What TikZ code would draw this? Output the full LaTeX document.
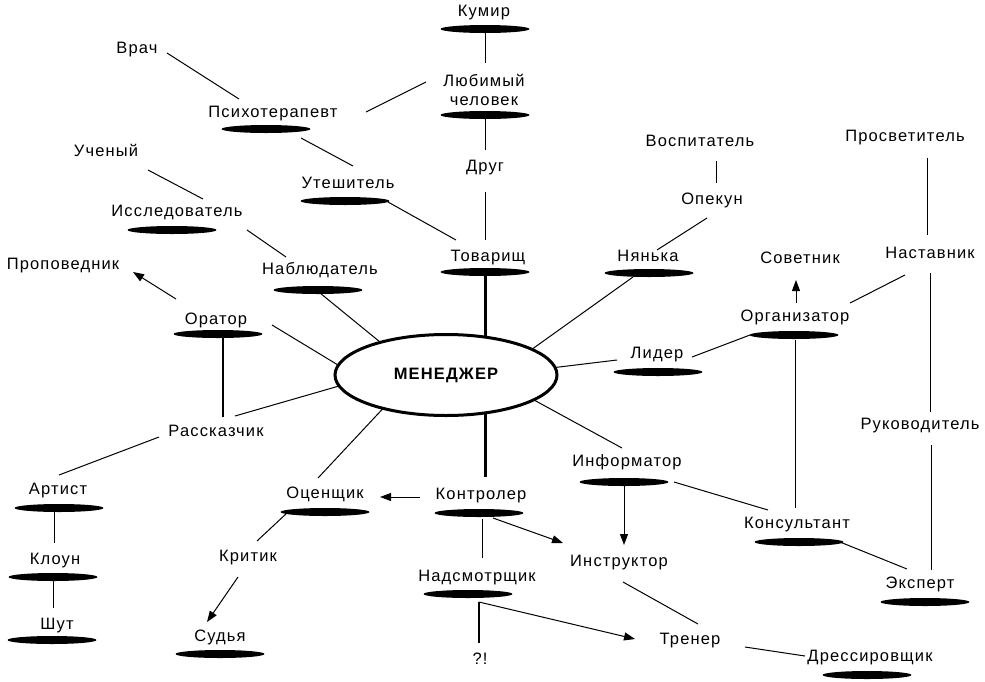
\documentclass[tikz,border=0pt]{standalone}
\usepackage{fontspec}
\setmainfont{Liberation Sans}[LetterSpace=7]
\usetikzlibrary{arrows.meta,shapes.geometric}
\begin{document}
\begin{tikzpicture}[x=1pt,y=-1pt,
  lbl/.style={font=\fontsize{16.5}{19}\selectfont, inner sep=2pt, text height=11.5pt, text depth=3.5pt},
  ul/.style={ellipse, fill=black, minimum width=89pt, minimum height=8pt, inner sep=0pt},
  ln/.style={line width=1pt},
  arr/.style={line width=1pt, -{Triangle[length=11pt,width=8pt]}},
  heavy/.style={line width=3pt},
  mid/.style={line width=2pt}]
\useasboundingbox[fill=white] (0,0) rectangle (985,681);

% centre
\node[ellipse, draw, line width=3pt, minimum width=222pt, minimum height=81pt, inner sep=0pt,
      font=\fontsize{16.5}{19}\selectfont\bfseries] (men) at (446,375) {МЕНЕДЖЕР};

% labels
\node[lbl] (kumir) at (484,12) {Кумир};
\node[ul] (kumirU) at (485,29) {};
\node[font=\fontsize{16.5}{19}\selectfont, align=center, inner sep=0pt] (lyub) at (484,90) {Любимый\\человек};
\node[ul] (lyubU) at (485,115) {};
\node[lbl] (drug) at (485,167) {Друг};
\node[lbl] (tov) at (488,257) {Товарищ};
\node[ul] (tovU) at (485,272) {};
\node[lbl] (psy) at (273,113) {Психотерапевт};
\node[ul] (psyU) at (266,129) {};
\node[lbl] (vrach) at (137,49) {Врач};
\node[lbl] (utesh) at (348,184) {Утешитель};
\node[ul] (uteshU) at (345,201) {};
\node[lbl] (uchen) at (106,152) {Ученый};
\node[lbl] (issl) at (177,212) {Исследователь};
\node[ul] (isslU) at (172,230) {};
\node[lbl] (nabl) at (320,270) {Наблюдатель};
\node[ul] (nablU) at (318,290) {};
\node[lbl] (propov) at (63,265) {Проповедник};
\node[lbl] (orator) at (216,320) {Оратор};
\node[ul] (oratorU) at (218,334) {};
\node[lbl] (rasskaz) at (216,432) {Рассказчик};
\node[lbl] (artist) at (58,490) {Артист};
\node[ul] (artistU) at (59,508) {};
\node[lbl] (kloun) at (55,560) {Клоун};
\node[ul] (klounU) at (53,577) {};
\node[lbl] (shut) at (57,625) {Шут};
\node[ul] (shutU) at (52,640) {};
\node[lbl] (ocen) at (325,494) {Оценщик};
\node[ul] (ocenU) at (325,512) {};
\node[lbl] (kritik) at (248,557) {Критик};
\node[lbl] (sudya) at (220,637) {Судья};
\node[ul] (sudyaU) at (220,654) {};
\node[lbl] (kontr) at (481,495) {Контролер};
\node[ul] (kontrU) at (479,513) {};
\node[lbl] (nadsm) at (477,577) {Надсмотрщик};
\node[ul] (nadsmU) at (468,594) {};
\node[lbl] (qm) at (480,660) {?!};
\node[lbl] (instr) at (619,562) {Инструктор};
\node[lbl] (trener) at (690,640) {Тренер};
\node[lbl] (dress) at (870,657) {Дрессировщик};
\node[ul] (dressU) at (867,675) {};
\node[lbl] (inform) at (627,462) {Информатор};
\node[ul] (informU) at (624,482) {};
\node[lbl] (konsult) at (797,524) {Консультант};
\node[ul] (konsultU) at (799,542) {};
\node[lbl] (ekspert) at (920,584) {Эксперт};
\node[ul] (ekspertU) at (925,602) {};
\node[lbl] (rukov) at (920,425) {Руководитель};
\node[lbl] (nastav) at (930,254) {Наставник};
\node[lbl] (prosv) at (905,137) {Просветитель};
\node[lbl] (organiz) at (795,317) {Организатор};
\node[ul] (organizU) at (794,335) {};
\node[lbl] (sovet) at (800,259) {Советник};
\node[lbl] (lider) at (657,354) {Лидер};
\node[ul] (liderU) at (658,372) {};
\node[lbl] (nyanka) at (648,257) {Нянька};
\node[ul] (nyankaU) at (649,273) {};
\node[lbl] (opekun) at (712,200) {Опекун};
\node[lbl] (vospit) at (700,142) {Воспитатель};

% connectors
\draw[ln] ([shift={(0,3)}]kumirU.center) -- ([shift={(1,-27)}]lyub.center);
\draw[ln] ([shift={(0,3)}]lyubU.center) -- ([shift={(0,-17)}]drug.center);
\draw[ln] ([shift={(0,25)}]drug.center) -- ([shift={(-3,-17)}]tov.center);
\draw[heavy] ([shift={(0,4)}]tovU.center) -- ([shift={(39,-38)}]men.center);
\draw[ln] ([shift={(93,-1)}]psy.center) -- ([shift={(-58,-8)}]lyub.center);
\draw[ln] ([shift={(30,4)}]vrach.center) -- ([shift={(-34,-14)}]psy.center);
\draw[ln] ([shift={(35,9)}]psyU.center) -- ([shift={(5,-18)}]utesh.center);
\draw[ln] ([shift={(43,1)}]uteshU.center) -- ([shift={(-32,-17)}]tov.center);
\draw[ln] ([shift={(42,18)}]uchen.center) -- ([shift={(26,-13)}]issl.center);
\draw[ln] ([shift={(75,0)}]isslU.center) -- ([shift={(-34,-13)}]nabl.center);
\draw[ln] ([shift={(2,3)}]nablU.center) -- ([shift={(-66,-33)}]men.center);
\draw[arr] ([shift={(-40,-21)}]orator.center) -- ([shift={(70,7)}]propov.center);
\draw[ln] ([shift={(56,5)}]orator.center) -- ([shift={(-108,-10)}]men.center);
\draw[mid] ([shift={(5,4)}]oratorU.center) -- ([shift={(7,-15)}]rasskaz.center);
\draw[ln] ([shift={(19,-16)}]rasskaz.center) -- ([shift={(-107,11)}]men.center);
\draw[ln] ([shift={(-57,5)}]rasskaz.center) -- ([shift={(1,-15)}]artist.center);
\draw[ln] ([shift={(-5,4)}]artistU.center) -- ([shift={(-1,-17)}]kloun.center);
\draw[ln] ([shift={(0,3)}]klounU.center) -- ([shift={(-4,-17)}]shut.center);
\draw[ln] ([shift={(-63,33.5)}]men.center) -- ([shift={(-7,-16)}]ocen.center);
\draw[ln] ([shift={(-38,1)}]ocenU.center) -- ([shift={(9,-16)}]kritik.center);
\draw[arr] ([shift={(-10,20)}]kritik.center) -- ([shift={(-13,-15)}]sudya.center);
\draw[heavy] ([shift={(39,38)}]men.center) -- ([shift={(4,-18)}]kontr.center);
\draw[arr] ([shift={(-61,2)}]kontr.center) -- ([shift={(55,3)}]ocen.center);
\draw[arr] ([shift={(14,5)}]kontrU.center) -- ([shift={(-56,-19)}]instr.center);
\draw[ln] ([shift={(3,6)}]kontrU.center) -- ([shift={(5,-19)}]nadsm.center);
\draw[mid] ([shift={(-1,-17)}]qm.center) -- ([shift={(11,8)}]nadsmU.center);
\draw[arr] ([shift={(11,8)}]nadsmU.center) -- ([shift={(-55,-1)}]trener.center);
\draw[ln] ([shift={(88,25)}]men.center) -- ([shift={(-5,-14)}]inform.center);
\draw[arr] ([shift={(0,3)}]informU.center) -- ([shift={(5,-17)}]instr.center);
\draw[ln] ([shift={(4,20)}]instr.center) -- ([shift={(8,-16)}]trener.center);
\draw[ln] ([shift={(55,7)}]trener.center) -- ([shift={(-65,-1)}]dress.center);
\draw[ln] ([shift={(50,0)}]informU.center) -- ([shift={(-29,-14)}]konsult.center);
\draw[ln] ([shift={(41,0)}]konsultU.center) -- ([shift={(-13,-15)}]ekspert.center);
\draw[ln] ([shift={(1,5)}]organizU.center) -- ([shift={(-2,-16)}]konsult.center);
\draw[arr] ([shift={(1,-14)}]organiz.center) -- ([shift={(-4,21)}]sovet.center);
\draw[ln] ([shift={(-25,21)}]nastav.center) -- ([shift={(55,-14)}]organiz.center);
\draw[ln] ([shift={(22,21)}]prosv.center) -- ([shift={(-3,-19)}]nastav.center);
\draw[ln] ([shift={(0,19)}]nastav.center) -- ([shift={(10,-13)}]rukov.center);
\draw[ln] ([shift={(11,20)}]rukov.center) -- ([shift={(11,-14)}]ekspert.center);
\draw[ln] ([shift={(35,3)}]lider.center) -- ([shift={(-44,0)}]organizU.center);
\draw[ln] ([shift={(-40,6)}]lider.center) -- ([shift={(109,-7.5)}]men.center);
\draw[ln] ([shift={(-16,4)}]nyankaU.center) -- ([shift={(86,-25.8)}]men.center);
\draw[ln] ([shift={(-5,18)}]opekun.center) -- ([shift={(9,-7)}]nyanka.center);
\draw[ln] ([shift={(16,19)}]vospit.center) -- ([shift={(4,-17)}]opekun.center);
\end{tikzpicture}
\end{document}
